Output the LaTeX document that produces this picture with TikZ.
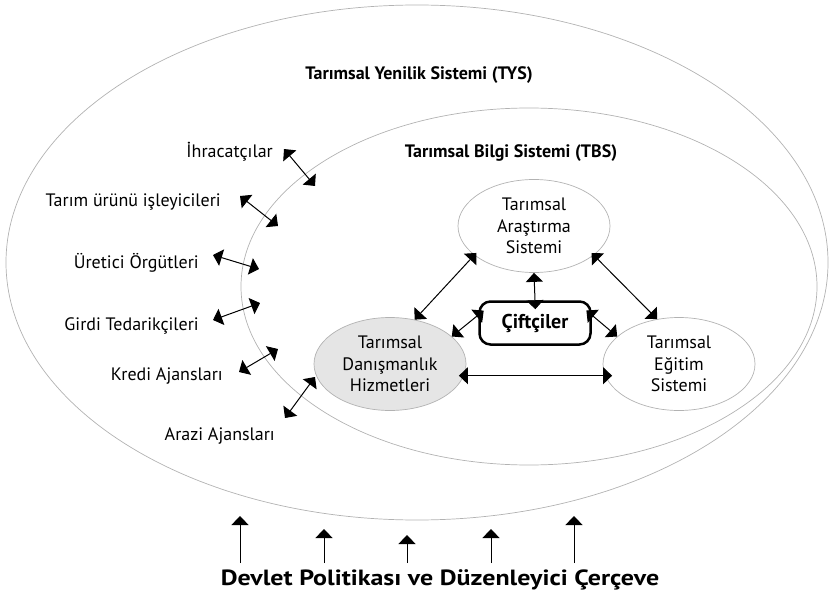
\documentclass[tikz,border=0pt]{standalone}
\usepackage{fontspec}
\setmainfont{PT Sans}
\usetikzlibrary{arrows.meta, positioning, shapes.geometric}

\begin{document}
\begin{tikzpicture}[
  x=1pt, y=-1pt,
  >={Triangle[length=9pt, width=17pt]},
  ring/.style={draw=black!30, line width=0.7pt, ellipse, inner sep=0pt},
  subsys/.style={draw=black!30, line width=0.7pt, ellipse, minimum width=152pt, minimum height=93pt, align=center, inner sep=0pt, font=\fontsize{18}{21.5}\selectfont},
  actor/.style={anchor=east, inner sep=0pt, font=\fontsize{18}{21}\selectfont},
  head/.style={font=\bfseries\fontsize{18}{21}\selectfont},
  link/.style={<->, line width=1pt},
  push/.style={->, line width=1pt}
]
\useasboundingbox (0,0) rectangle (830,607);

% nested systems
\node[ring, minimum width=822pt, minimum height=515pt] (tys) at (417,262.5) {};
\node[ring, minimum width=576pt, minimum height=357pt] (tbs) at (529,286.5) {};
\node[head] (tyslbl) at (419,75)  {Tarımsal Yenilik Sistemi (TYS)};
\node[head] (tbslbl) at (511,153) {Tarımsal Bilgi Sistemi (TBS)};

% knowledge triangle
\node[subsys] (ars) at (534,226) {Tarımsal\\Araştırma\\Sistemi};
\node[subsys, fill=black!10] (dan) at (390,364) {Tarımsal\\Danışmanlık\\Hizmetleri};
\node[subsys] (egt) at (679,364) {Tarımsal\\Eğitim\\Sistemi};
\node[draw, line width=2.5pt, rounded corners=11pt, minimum width=111pt, minimum height=43pt,
      font=\bfseries\fontsize{20}{24}\selectfont] (cif) at (535,323) {Çiftçiler};

\draw[link, shorten <=-3pt] (ars.206) -- (dan.61);
\draw[link, shorten <=-3pt] (ars.-26) -- (egt.116);
\draw[link, shorten <=-5pt, shorten >=-7pt] (dan.-9) -- (egt.189);
\draw[link, shorten <=-9pt] (cif.north) -- (ars.south);
\draw[link, shorten <=-7pt] (cif.172) -- (dan.24);
\draw[link, shorten <=-7pt] (cif.8) -- (egt.156);

% outside actors
\node[actor] (ihr) at (273,152) {İhracatçılar};
\node[actor] (isl) at (221,202) {Tarım ürünü işleyicileri};
\node[actor] (ure) at (199,263) {Üretici Örgütleri};
\node[actor] (grd) at (199,326) {Girdi Tedarikçileri};
\node[actor] (krd) at (223,376) {Kredi Ajansları};
\node[actor] (arz) at (275,436) {Arazi Ajansları};

\coordinate (ihr-a) at (284,149); \coordinate (ihr-b) at (315,186);
\coordinate (isl-a) at (240,196); \coordinate (isl-b) at (278,226);
\coordinate (ure-a) at (213,255); \coordinate (ure-b) at (259,269);
\coordinate (grd-a) at (213,320); \coordinate (grd-b) at (260,303);
\coordinate (krd-a) at (239,372); \coordinate (krd-b) at (278,349);
\coordinate (arz-a) at (285,418); \coordinate (arz-b) at (315,377);

\draw[link] (ihr-a) -- (ihr-b);
\draw[link] (isl-a) -- (isl-b);
\draw[link] (ure-a) -- (ure-b);
\draw[link] (grd-a) -- (grd-b);
\draw[link] (krd-a) -- (krd-b);
\draw[link] (arz-a) -- (arz-b);

% policy frame
\node[font=\bfseries\fontsize{22}{26}\selectfont\addfontfeature{FakeStretch=1.18}] (pol) at (440,580) {Devlet Politikası ve Düzenleyici Çerçeve};
\foreach \i/\x/\t in {1/240/516, 2/324/529, 3/407/535, 4/491/529, 5/574/516} {
  \coordinate (pb\i) at (\x,563);
  \coordinate (pt\i) at (\x,\t);
  \draw[push] (pb\i) -- (pt\i);
}
\end{tikzpicture}
\end{document}
